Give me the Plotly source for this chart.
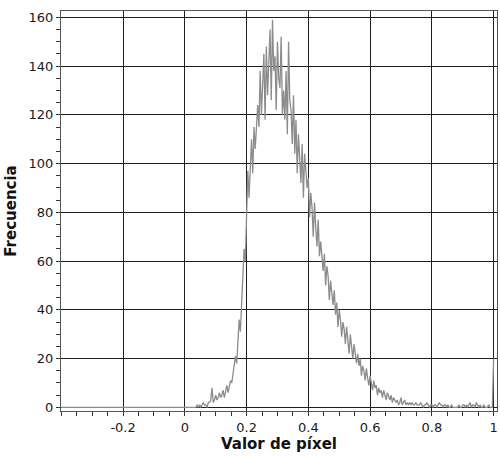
import numpy as np
import plotly.graph_objects as go

# Histogram bin centres: zero counts from -0.4 up to 0, then 251 bins 0..1 (step 0.004)
bin_step = 0.004
leading_zero_bins = 100  # bins from -0.4 to -0.004
counts_leading = [0] * leading_zero_bins
counts_main = [
    0, 0, 0, 0, 0, 0, 0, 0, 0, 0,
    1, 0, 1, 0, 1, 2, 1, 1, 0, 2,
    2, 3, 8, 2, 3, 5, 3, 4, 6, 4,
    5, 7, 4, 6, 9, 6, 8, 11, 10, 14,
    16, 21, 18, 25, 36, 31, 44, 52, 65, 60,
    82, 97, 86, 102, 110, 96, 115, 106, 118, 124,
    115, 138, 120, 132, 145, 118, 148, 128, 140, 155,
    126, 159, 138, 144, 122, 150, 135, 131, 152, 120,
    130, 118, 138, 112, 150, 126, 122, 108, 128, 104,
    118, 96, 112, 104, 92, 108, 86, 104, 97, 90,
    94, 78, 88, 82, 70, 84, 74, 66, 77, 62,
    68, 60, 56, 63, 50, 58, 54, 44, 52, 47,
    42, 48, 38, 43, 33, 40, 36, 29, 35, 32,
    26, 33, 28, 22, 30, 25, 20, 26, 22, 18,
    22, 17, 20, 13, 17, 15, 11, 16, 12, 9,
    13, 10, 7, 11, 8, 9, 5, 8, 6, 7,
    4, 7, 5, 3, 6, 4, 3, 5, 2, 4,
    3, 2, 3, 1, 2, 4, 1, 2, 3, 1,
    2, 1, 2, 1, 2, 1, 1, 2, 1, 1,
    1, 2, 1, 0, 1, 1, 2, 1, 0, 1,
    1, 0, 1, 1, 0, 1, 2, 1, 1, 0,
    1, 1, 0, 1, 0, 0, 1, 0, 0, 0,
    0, 0, 1, 0, 0, 1, 1, 0, 1, 0,
    1, 2, 0, 1, 1, 0, 2, 1, 0, 1,
    0, 0, 1, 0, 0, 0, 1, 0, 0, 0,
    20,
]
counts = counts_leading + counts_main
x_values = np.round(-0.4 + bin_step * np.arange(len(counts)), 4)

x_tick_vals = [-0.2, 0, 0.2, 0.4, 0.6, 0.8, 1]
x_tick_text = ["-0.2", "0", "0.2", "0.4", "0.6", "0.8", "1"]
y_tick_vals = [0, 20, 40, 60, 80, 100, 120, 140, 160]

fig = go.Figure()
fig.add_trace(go.Scatter(
    x=x_values, y=counts, mode="lines",
    line=dict(color="#8c8c8c", width=1.3),
    showlegend=False, hoverinfo="skip",
))

font = dict(family="DejaVu Sans", size=13, color="#1a1a1a")
fig.update_layout(
    width=500, height=458,
    margin=dict(l=61, r=3, t=11, b=47),
    paper_bgcolor="white", plot_bgcolor="white",
    font=font,
    xaxis=dict(
        range=[-0.401, 1.011], tickvals=x_tick_vals, ticktext=x_tick_text,
        showgrid=True, gridcolor="#1e1e1e", gridwidth=1, zeroline=False,
        showline=True, linecolor="#555555", linewidth=1, mirror=True,
        ticks="outside", ticklen=4, tickcolor="#333333",
        minor=dict(dtick=0.05, tick0=0, ticks="outside", ticklen=4, tickcolor="#333333", showgrid=False),
        title=dict(text="<b>Valor de píxel</b>", font=dict(family="DejaVu Sans", size=15, color="#111111"), standoff=3),
        tickfont=font,
    ),
    yaxis=dict(
        range=[-1.5, 162.6], tickvals=y_tick_vals,
        showgrid=True, gridcolor="#1e1e1e", gridwidth=1, zeroline=False,
        showline=True, linecolor="#555555", linewidth=1, mirror=True,
        ticks="outside", ticklen=4, tickcolor="#333333",
        minor=dict(dtick=5, tick0=0, ticks="outside", ticklen=4, tickcolor="#333333", showgrid=False),
        title=dict(text="<b>Frecuencia</b>", font=dict(family="DejaVu Sans", size=15, color="#111111"), standoff=8),
        tickfont=font,
    ),
)

fig.write_html("out.html")
